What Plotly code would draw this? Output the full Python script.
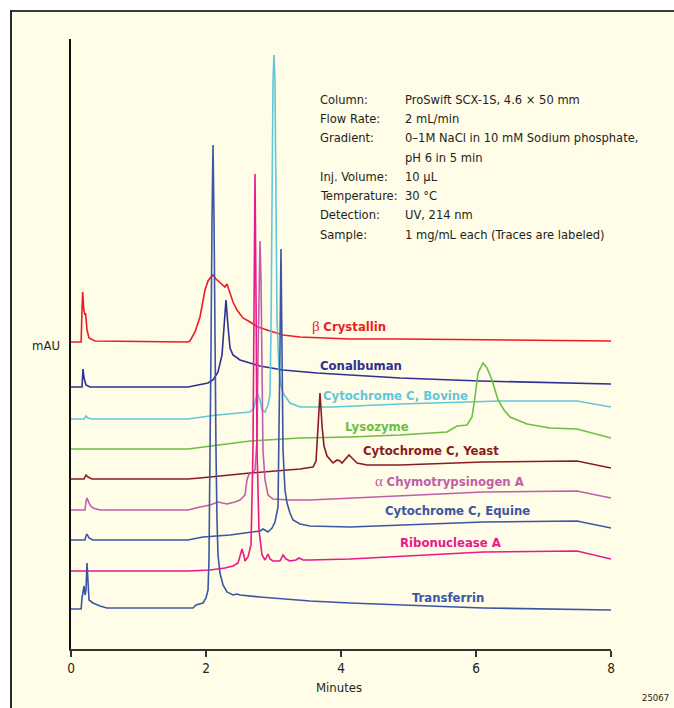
import plotly.graph_objects as go

# ---------------- data (time in minutes, stacked detector signal in mAU units) ----------------
RED_T = [0, 0.15, 0.163, 0.173, 0.19, 0.207, 0.216, 0.237, 0.267, 0.356, 1.733, 1.763, 1.837, 1.911, 1.985, 2.03, 2.074, 2.104, 2.148, 2.193, 2.237, 2.281, 2.311, 2.341, 2.4, 2.459, 2.548, 2.652, 2.77, 2.904, 3.141, 3.393, 4.133, 4.874, 6.356, 8]
RED_S = [309, 309, 341, 359, 341, 336, 338, 321, 313, 310, 309, 310, 319, 334, 361, 370, 374, 376, 372, 369, 367, 364, 367, 361, 349, 341, 333, 329, 324, 321, 316, 314, 312, 312, 311, 310]

NAVY_T = [0, 0.163, 0.178, 0.193, 0.222, 0.281, 1.733, 1.911, 2.03, 2.104, 2.178, 2.237, 2.267, 2.296, 2.326, 2.356, 2.4, 2.504, 2.652, 2.8, 3.141, 3.644, 4.133, 4.874, 6.059, 8]
NAVY_S = [264, 264, 282, 273, 266, 264, 264, 266, 268, 271, 279, 296, 321, 351, 325, 303, 296, 291, 288, 285, 281, 278, 276, 273, 270, 267]

CYAN_T = [0, 0.193, 0.222, 0.252, 0.311, 1.733, 2.163, 2.652, 2.711, 2.741, 2.77, 2.8, 2.83, 2.874, 2.919, 2.948, 2.963, 2.978, 2.993, 3.007, 3.022, 3.037, 3.052, 3.081, 3.111, 3.141, 3.244, 3.393, 3.881, 4.874, 6.356, 7.496, 8]
CYAN_S = [232, 232, 235, 233, 232, 232, 236, 239, 243, 254, 256, 251, 241, 239, 246, 256, 321, 451, 571, 596, 571, 451, 331, 281, 266, 258, 248, 244, 244, 247, 250, 250, 244]

GREEN_T = [0, 1.733, 2.652, 3.393, 4.133, 4.874, 5.57, 5.719, 5.867, 5.941, 5.985, 6.03, 6.104, 6.163, 6.237, 6.326, 6.415, 6.504, 6.756, 7.096, 7.496, 8]
GREEN_S = [202, 202, 210, 213, 214, 216, 219, 225, 226, 234, 254, 278, 288, 283, 271, 251, 241, 234, 227, 223, 222, 213]

DRED_T = [0, 0.193, 0.222, 0.252, 0.311, 1.733, 1.911, 2.652, 3.393, 3.585, 3.63, 3.659, 3.689, 3.719, 3.748, 3.793, 3.881, 3.941, 3.985, 4.015, 4.074, 4.119, 4.163, 4.237, 4.385, 4.874, 6.104, 7.496, 8]
DRED_S = [172, 172, 176, 174, 172, 172, 173, 178, 182, 184, 190, 225, 258, 225, 205, 195, 188, 191, 190, 188, 193, 196, 193, 188, 186, 186, 189, 190, 183]

ORCH_T = [0, 0.207, 0.222, 0.237, 0.281, 0.326, 0.43, 1.733, 1.911, 2.059, 2.178, 2.311, 2.43, 2.504, 2.578, 2.607, 2.637, 2.681, 2.726, 2.756, 2.77, 2.785, 2.8, 2.815, 2.83, 2.844, 2.874, 2.919, 2.993, 3.244, 3.541, 4.133, 6.104, 7.496, 8]
ORCH_S = [141, 141, 149, 153, 146, 143, 141, 141, 144, 146, 149, 147, 149, 151, 156, 171, 177, 178, 181, 211, 291, 371, 410, 371, 271, 201, 171, 156, 152, 151, 151, 153, 159, 160, 153]

EQ_T = [0, 0.207, 0.222, 0.237, 0.267, 0.326, 1.733, 1.956, 2.356, 2.8, 2.844, 2.919, 2.978, 3.022, 3.067, 3.081, 3.096, 3.111, 3.126, 3.141, 3.17, 3.2, 3.244, 3.289, 3.393, 3.541, 4.133, 6.104, 7.496, 8]
EQ_S = [111, 111, 115, 117, 113, 111, 111, 114, 116, 120, 122, 119, 123, 129, 144, 201, 301, 402, 301, 201, 161, 148, 138, 131, 127, 125, 124, 129, 130, 123]

RIB_T = [0, 1.733, 2.059, 2.281, 2.4, 2.474, 2.504, 2.533, 2.563, 2.578, 2.622, 2.667, 2.696, 2.711, 2.726, 2.741, 2.756, 2.785, 2.83, 2.874, 2.919, 2.948, 2.993, 3.096, 3.141, 3.185, 3.244, 3.333, 3.378, 3.437, 3.541, 4.133, 6.104, 7.496, 8]
RIB_S = [80, 80, 81, 83, 85, 88, 95, 102, 95, 90, 94, 106, 201, 351, 477, 351, 201, 121, 96, 91, 97, 92, 90, 90, 96, 92, 90, 91, 93, 91, 91, 92, 99, 100, 92]

TR_T = [0, 0.15, 0.163, 0.178, 0.193, 0.207, 0.222, 0.237, 0.252, 0.267, 0.326, 0.43, 0.533, 1.807, 1.852, 1.956, 2.0, 2.03, 2.044, 2.059, 2.074, 2.089, 2.104, 2.119, 2.133, 2.148, 2.163, 2.178, 2.207, 2.252, 2.311, 2.4, 2.459, 2.504, 2.8, 3.2, 3.541, 4.133, 4.874, 6.104, 8]
TR_S = [42, 42, 53, 59, 65, 56, 61, 88, 66, 51, 48, 45, 43, 43, 46, 48, 53, 61, 91, 181, 301, 431, 506, 431, 301, 201, 131, 96, 78, 66, 59, 56, 57, 56, 54, 52, 50, 48, 46, 43, 41]

TRACE_NAMES = ["β Crystallin", "Conalbuman", "Cytochrome C, Bovine", "Lysozyme", "Cytochrome C, Yeast",
               "α Chymotrypsinogen A", "Cytochrome C, Equine", "Ribonuclease A", "Transferrin"]
TRACE_COLORS = ["#ED1C24", "#2E3192", "#62C6DC", "#6CBE45", "#8A1C20", "#C05EAA", "#3C55A5", "#E8198B", "#3C56A6"]
TRACE_T = [RED_T, NAVY_T, CYAN_T, GREEN_T, DRED_T, ORCH_T, EQ_T, RIB_T, TR_T]
TRACE_S = [RED_S, NAVY_S, CYAN_S, GREEN_S, DRED_S, ORCH_S, EQ_S, RIB_S, TR_S]

X_TICKS = [0, 2, 4, 6, 8]

# label positions (minutes, signal) for the trace names
LABEL_POS = [(4.12, 325), (4.30, 286), (4.81, 256), (4.53, 225), (5.33, 201), (5.60, 170), (5.72, 141), (5.62, 109), (5.59, 54)]

PARAM_KEYS = ["Column:", "Flow Rate:", "Gradient:", "", "Inj. Volume:", "Temperature:", "Detection:", "Sample:"]
PARAM_VALS = ["ProSwift SCX-1S, 4.6 × 50 mm", "2 mL/min", "0–1M NaCl in 10 mM Sodium phosphate,",
              "pH 6 in 5 min", "10 µL", "30 °C", "UV, 214 nm", "1 mg/mL each (Traces are labeled)"]

# ---------------- layout constants ----------------
W, H = 674, 708
L, R, T, B = 71, 63, 39, 59
PW, PH = W - L - R, H - T - B
CREAM = "#FFFCE7"
COND = "DejaVu Sans Condensed, sans-serif"
TXT = "#231F20"


def px(x):
    return (x - L) / PW


def py(y):
    return (H - B - y) / PH


fig = go.Figure()
for name, col, t, s in zip(TRACE_NAMES, TRACE_COLORS, TRACE_T, TRACE_S):
    fig.add_trace(go.Scatter(x=t, y=s, mode="lines", name=name,
                             line=dict(color=col, width=1.6), hoverinfo="skip"))

ann = []
for name, col, (lx, ly) in zip(TRACE_NAMES, TRACE_COLORS, LABEL_POS):
    if name[0] in "αβ":
        txt = "<span style='font-family:Liberation Serif, serif; font-size:15px'>%s</span> <b>%s</b>" % (name[0], name[2:])
    else:
        txt = "<b>%s</b>" % name
    ann.append(dict(x=lx, y=ly, xref="x", yref="y", text=txt, showarrow=False,
                    xanchor="center", yanchor="middle",
                    font=dict(family=COND, size=13, color=col)))

line_y = [100, 118, 137, 157, 176, 195, 214, 234]
for k, v, yy in zip(PARAM_KEYS, PARAM_VALS, line_y):
    if k:
        ann.append(dict(x=px(318), y=py(yy), xref="paper", yref="paper", text=k, showarrow=False,
                        xanchor="left", yanchor="middle", font=dict(family=COND, size=12.8, color=TXT)))
    ann.append(dict(x=px(403), y=py(yy), xref="paper", yref="paper", text=v, showarrow=False,
                    xanchor="left", yanchor="middle", font=dict(family=COND, size=12.8, color=TXT)))

ann.append(dict(x=px(46), y=py(345), xref="paper", yref="paper", text="mAU", showarrow=False,
                xanchor="center", yanchor="middle", font=dict(family=COND, size=13, color=TXT)))
ann.append(dict(x=px(339), y=py(687), xref="paper", yref="paper", text="Minutes", showarrow=False,
                xanchor="center", yanchor="middle", font=dict(family=COND, size=13, color=TXT)))
ann.append(dict(x=px(671), y=py(698), xref="paper", yref="paper", text="25067", showarrow=False,
                xanchor="right", yanchor="middle", font=dict(family=COND, size=9.5, color=TXT)))

shapes = [
    dict(type="rect", xref="paper", yref="paper", x0=px(11), x1=px(W + 5), y0=py(11), y1=py(H + 5),
         fillcolor=CREAM, line=dict(width=0), layer="below"),
    dict(type="line", xref="paper", yref="paper", x0=px(10), x1=px(W + 5), y0=py(11), y1=py(11),
         line=dict(color="#3A3A3A", width=2)),
    dict(type="line", xref="paper", yref="paper", x0=px(11), x1=px(11), y0=py(10), y1=py(H + 5),
         line=dict(color="#2A2A2A", width=2)),
]

fig.update_layout(
    width=W, height=H, margin=dict(l=L, r=R, t=T, b=B),
    paper_bgcolor="white", plot_bgcolor="rgba(0,0,0,0)",
    showlegend=False, annotations=ann, shapes=shapes,
    xaxis=dict(range=[0, 8], tickvals=X_TICKS, ticks="outside", ticklen=6, tickwidth=1.5,
               tickcolor="#333333", showline=True, linecolor="#333333", linewidth=2,
               showgrid=False, zeroline=False,
               tickfont=dict(family=COND, size=13.5, color=TXT)),
    yaxis=dict(range=[2, 612], showline=True, linecolor="#111111", linewidth=1.6,
               showticklabels=False, ticks="", showgrid=False, zeroline=False),
)

fig.write_html("out.html")
